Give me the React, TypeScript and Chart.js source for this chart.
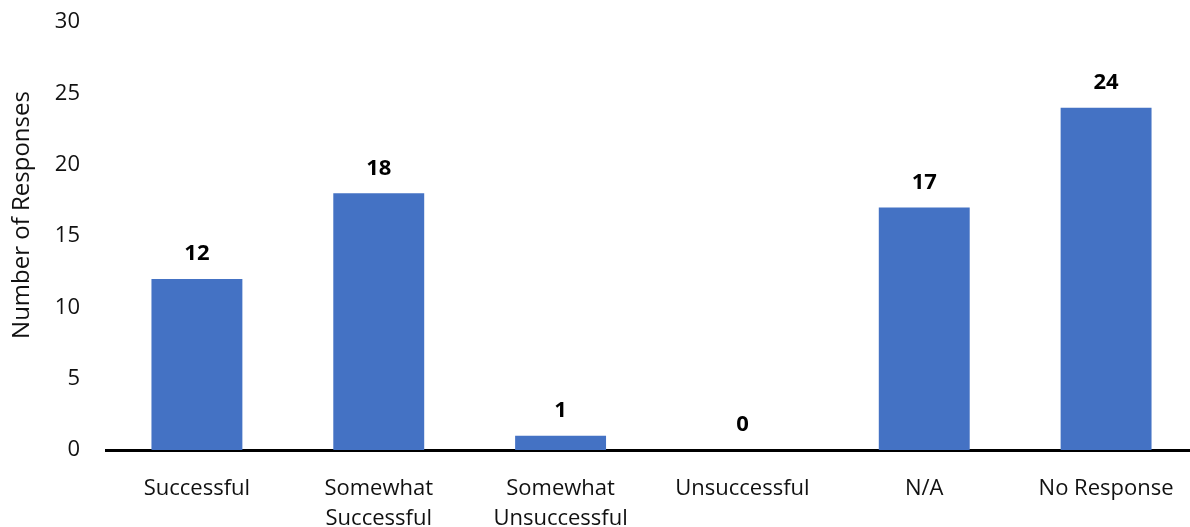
import React, { useEffect, useRef } from "react";
import { Chart, registerables } from "chart.js";

Chart.register(...registerables);

const categories: (string | string[])[] = [
  "Successful",
  ["Somewhat", "Successful"],
  ["Somewhat", "Unsuccessful"],
  "Unsuccessful",
  "N/A",
  "No Response",
];
const responses: number[] = [12, 18, 1, 0, 17, 24];
const yTicks: number[] = [0, 5, 10, 15, 20, 25, 30];
const yTitle = "Number of Responses";

const FONT = "'Open Sans', 'Noto Sans', sans-serif";
const SHIFT = 9;

const valueLabels = {
  id: "valueLabels",
  afterDatasetsDraw(chart: any) {
    const ctx = chart.ctx;
    const meta = chart.getDatasetMeta(0);
    const data = chart.data.datasets[0].data as number[];
    ctx.save();
    ctx.font = `bold 22px ${FONT}`;
    ctx.fillStyle = "#000";
    ctx.textAlign = "center";
    ctx.textBaseline = "middle";
    meta.data.forEach((el: any, i: number) => {
      ctx.fillText(String(data[i]), el.x, el.y - 25);
    });
    // y-axis title
    ctx.font = `24px ${FONT}`;
    ctx.fillStyle = "#111";
    ctx.translate(22, 215 + SHIFT);
    ctx.rotate(-Math.PI / 2);
    ctx.fillText(yTitle, 0, 0);
    ctx.restore();
  },
};

export default function App() {
  const ref = useRef<HTMLCanvasElement>(null);
  useEffect(() => {
    document.body.style.overflow = "hidden";
    const chart = new Chart(ref.current!, {
      type: "bar",
      data: {
        labels: categories as any,
        datasets: [
          {
            data: responses,
            backgroundColor: "#4472C4",
            barPercentage: 0.5,
            categoryPercentage: 1,
          },
        ],
      },
      options: {
        animation: false,
        responsive: false,
        devicePixelRatio: 1,
        layout: { padding: { top: 2, right: 3, left: 0, bottom: 0 } },
        plugins: { legend: { display: false }, tooltip: { enabled: false } },
        scales: {
          x: {
            grid: { display: false },
            border: { display: true, color: "#000", width: 3 },
            afterFit: (axis: any) => {
              axis.height = 77;
            },
            ticks: {
              color: "#111",
              font: { family: FONT, size: 22, lineHeight: 1.36 },
              padding: 16,
              maxRotation: 0,
              autoSkip: false,
            },
          },
          y: {
            min: 0,
            max: 30,
            afterBuildTicks: (axis: any) => {
              axis.ticks = yTicks.map((v) => ({ value: v }));
            },
            afterFit: (axis: any) => {
              axis.width = 106;
            },
            grid: { display: false },
            border: { display: false },
            ticks: {
              color: "#111",
              font: { family: FONT, size: 22 },
              padding: 18,
            },
          },
        },
      },
      plugins: [valueLabels],
    });
    return () => chart.destroy();
  }, []);
  return (
    <div style={{ position: "fixed", left: 0, top: -SHIFT, width: 1200, height: 527 + SHIFT }}>
      <canvas
        ref={ref}
        width={1200}
        height={527 + SHIFT}
        style={{ width: 1200, height: 527 + SHIFT }}
      />
    </div>
  );
}
